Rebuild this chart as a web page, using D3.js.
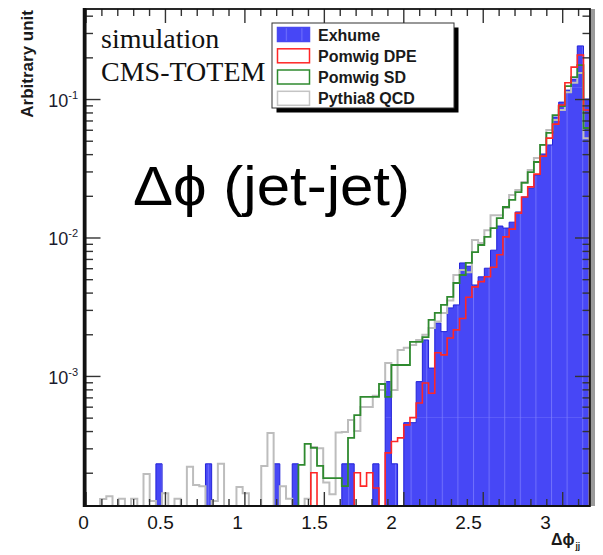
<!DOCTYPE html>
<html><head><meta charset="utf-8">
<script src="https://cdn.jsdelivr.net/npm/d3@7"></script>
<style>body{margin:0;background:#fff} svg{display:block}</style>
</head><body>
<svg id="c" width="603" height="555"></svg>
<script>
// ---- data ----
const binStart = 0.014;
const binWidth = 0.039;
const exhume = [
  0,0,0,0,0,0,0,0,0,0,
  0,2.32e-4,0,0,0,0,0,0,0,2.32e-4,
  0,0,0,0,0,0,0,0,0,0,
  2.32e-4,0,0,2.32e-4,0,0,0,0,0,0,
  0,2.32e-4,2.32e-4,0,0,0,2.32e-4,0,9.1e-4,2.32e-4,
  0,4.6e-4,4.6e-4,9.1e-4,1.82e-3,1.14e-3,2.41e-3,2.09e-3,3.1e-3,3.26e-3,
  6.55e-3,6.2e-3,4.54e-3,5.2e-3,6.0e-3,8.1e-3,0.0121,0.0117,0.0129,0.0153,
  0.0196,0.0228,0.0282,0.0401,0.0466,0.0741,0.095,0.116,0.139,0.242,
  0.100
];
const pomwigDPE = [
  0,0,0,0,0,0,0,0,0,0,
  0,0,0,0,0,0,0,0,0,0,
  0,0,0,0,0,0,0,0,0,0,
  0,0,0,0,0,0,2.0e-4,0,0,0,
  0,0,0,2.0e-4,1.6e-4,2.0e-4,1.55e-4,0,2.78e-4,3.36e-4,
  3.57e-4,4.43e-4,5.0e-4,6.38e-4,8.9e-4,7.5e-4,1.47e-3,1.42e-3,1.88e-3,2.15e-3,
  2.6e-3,3.7e-3,4.4e-3,4.8e-3,5.2e-3,6.1e-3,7.5e-3,0.0101,0.0115,0.0150,
  0.0196,0.0232,0.0287,0.0387,0.0522,0.0659,0.0905,0.131,0.170,0.208,
  0.0833
];
const pomwigSD = [
  0,0,0,0,0,0,0,0,0,0,
  0,0,0,0,0,0,0,0,0,0,
  0,0,0,0,0,0,0,0,0,0,
  0,0,0,0,2.28e-4,3.23e-4,3.02e-4,2.24e-4,1.83e-4,1.83e-4,
  1.83e-4,1.6e-4,3.57e-4,5.22e-4,7.05e-4,7.05e-4,7.05e-4,8.75e-4,7.05e-4,1.2e-3,
  1.2e-3,1.2e-3,1.76e-3,1.76e-3,1.91e-3,2.54e-3,2.85e-3,3.26e-3,3.72e-3,4.69e-3,
  5.36e-3,6.55e-3,7.85e-3,8.83e-3,0.0101,0.0117,0.0138,0.0166,0.0187,0.0213,
  0.0248,0.0297,0.0351,0.0466,0.0569,0.0766,0.0889,0.124,0.144,0.176,
  0.0618
];
const pythia8 = [
  0,0,1.29e-4,1.35e-4,0,1.3e-4,0,1.3e-4,0,1.96e-4,
  1.25e-4,0,1.42e-4,0,1.3e-4,0,2.21e-4,1.63e-4,1.6e-4,0,
  1.25e-4,2.32e-4,0,0,1.58e-4,1.42e-4,0,0,2.24e-4,3.87e-4,
  0,1.6e-4,1.3e-4,0,0,1.3e-4,3.07e-4,3.0e-4,1.7e-4,1.4e-4,
  3.9e-4,3.94e-4,4.81e-4,4.0e-4,5.97e-4,5.97e-4,7.18e-4,7.9e-4,1.24e-3,7.93e-4,
  1.54e-3,1.6e-3,1.67e-3,1.82e-3,1.98e-3,2.22e-3,2.47e-3,2.85e-3,3.5e-3,5.36e-3,
  5.82e-3,5.6e-3,9.6e-3,9.12e-3,0.0113,0.0145,0.0145,0.0163,0.0203,0.0220,
  0.0252,0.0307,0.0375,0.0466,0.0597,0.0705,0.0833,0.112,0.131,0.154,
  0.0522
];
const seriesNames = ["Exhume", "Pomwig DPE", "Pomwig SD", "Pythia8 QCD"];
const xTickLabels = [0, 0.5, 1, 1.5, 2, 2.5, 3];
const yDecadeExponents = [-1, -2, -3];

// ---- layout ----
const svg = d3.select("#c");
const L = 85.5, R = 590, T = 9, B = 506;
const yMin = 1.15e-4, yMax = 0.447;
const x = d3.scaleLinear().domain([0, 3.175]).range([L, R]);
const y = d3.scaleLog().domain([yMin, yMax]).range([B, T]);
const xLab = d3.scaleLinear().domain([0, 3]).range([83, 545]);

const nB = exhume.length;
const edges = d3.range(nB + 1).map(i => binStart + i * binWidth);

const defs = svg.append("defs");
defs.append("clipPath").attr("id", "plot").append("rect")
  .attr("x", L).attr("y", T).attr("width", R - L).attr("height", B - T);
const pat = defs.append("pattern").attr("id", "exh").attr("patternUnits", "userSpaceOnUse")
  .attr("x", 5).attr("y", 87).attr("width", 15.6).attr("height", 110);
pat.append("rect").attr("width", 15.6).attr("height", 110).attr("fill", "#4747f6");
pat.append("line").attr("x1", 0.5).attr("x2", 0.5).attr("y1", 0).attr("y2", 110)
  .attr("stroke", "#9090ff").attr("stroke-width", 1).attr("opacity", 0.55);
pat.append("line").attr("x1", 0).attr("x2", 15.6).attr("y1", 0.5).attr("y2", 0.5)
  .attr("stroke", "#8080ff").attr("stroke-width", 1).attr("opacity", 0.35);

function stepPts(vals) {
  const pts = [[edges[0], yMin]];
  vals.forEach((v, i) => pts.push([edges[i], Math.max(v, yMin)]));
  pts.push([edges[nB], yMin]);
  return pts;
}
const line = d3.line().x(d => x(d[0])).y(d => y(d[1])).curve(d3.curveStepAfter);
const area = d3.area().x(d => x(d[0])).y0(y(yMin)).y1(d => y(d[1])).curve(d3.curveStepAfter);

const g = svg.append("g").attr("clip-path", "url(#plot)");
g.append("path").attr("d", area(stepPts(exhume))).attr("fill", "url(#exh)");
g.append("path").attr("d", line(stepPts(exhume))).attr("fill", "none")
  .attr("stroke", "#2323d8").attr("stroke-width", 1);
g.append("path").attr("d", line(stepPts(pythia8))).attr("fill", "none")
  .attr("stroke", "#bdbdbd").attr("stroke-width", 2);
g.append("path").attr("d", line(stepPts(pomwigSD))).attr("fill", "none")
  .attr("stroke", "#2f8a2f").attr("stroke-width", 1.8);
g.append("path").attr("d", line(stepPts(pomwigDPE))).attr("fill", "none")
  .attr("stroke", "#ff2626").attr("stroke-width", 1.6);

// ---- axes ticks ----
const majorX = d3.range(0, 3.01, 0.5);
const minorX = d3.range(0, 3.17, 0.1).filter(v => Math.abs(v * 2 - Math.round(v * 2)) > 1e-6);
function styleAxis(sel) {
  sel.select(".domain").remove();
  sel.selectAll("line").attr("stroke", "#333").attr("stroke-width", 1.4);
}
svg.append("g").attr("transform", `translate(0,${B})`)
  .call(d3.axisBottom(x).tickValues(majorX).tickSize(-14).tickFormat("")).call(styleAxis);
svg.append("g").attr("transform", `translate(0,${B})`)
  .call(d3.axisBottom(x).tickValues(minorX).tickSize(-7).tickFormat("")).call(styleAxis);
svg.append("g").attr("transform", `translate(0,${T})`)
  .call(d3.axisTop(x).tickValues(majorX).tickSize(-14).tickFormat("")).call(styleAxis);
svg.append("g").attr("transform", `translate(0,${T})`)
  .call(d3.axisTop(x).tickValues(minorX).tickSize(-7).tickFormat("")).call(styleAxis);

const majorY = yDecadeExponents.map(e => Math.pow(10, e));
const minorY = [];
[-4, -3, -2, -1].forEach(e => d3.range(2, 10).forEach(m => {
  const v = m * Math.pow(10, e);
  if (v > yMin && v < yMax) minorY.push(v);
}));
svg.append("g").attr("transform", `translate(${L},0)`)
  .call(d3.axisLeft(y).tickValues(majorY).tickSize(-15).tickFormat("")).call(styleAxis);
svg.append("g").attr("transform", `translate(${L},0)`)
  .call(d3.axisLeft(y).tickValues(minorY).tickSize(-7.5).tickFormat("")).call(styleAxis);
svg.append("g").attr("transform", `translate(${R},0)`)
  .call(d3.axisRight(y).tickValues(majorY).tickSize(-15).tickFormat("")).call(styleAxis);
svg.append("g").attr("transform", `translate(${R},0)`)
  .call(d3.axisRight(y).tickValues(minorY).tickSize(-7.5).tickFormat("")).call(styleAxis);

// ---- frame ----
svg.append("rect").attr("x", L).attr("y", T).attr("width", R - L).attr("height", B - T)
  .attr("fill", "none").attr("stroke", "#111").attr("stroke-width", 1.8);
svg.append("line").attr("x1", L - 1).attr("x2", L - 1).attr("y1", T - 1).attr("y2", B + 1)
  .attr("stroke", "#111").attr("stroke-width", 3.5);
svg.append("line").attr("x1", L - 2).attr("x2", R).attr("y1", B).attr("y2", B)
  .attr("stroke", "#111").attr("stroke-width", 2.2);
svg.append("line").attr("x1", R + 3).attr("x2", R + 3).attr("y1", T).attr("y2", B)
  .attr("stroke", "#9a9a9a").attr("stroke-width", 4);

// ---- tick labels ----
const xl = svg.append("g").attr("transform", `translate(0,${B})`)
  .call(d3.axisBottom(xLab).tickValues(xTickLabels).tickSize(0).tickPadding(10)
    .tickFormat(d => String(d)));
xl.select(".domain").remove();
xl.selectAll("text").attr("font-family", "Liberation Sans, Arial, sans-serif")
  .attr("font-size", 19).attr("fill", "#141414");

yDecadeExponents.forEach(e => {
  const t = svg.append("text").attr("x", 78).attr("y", y(Math.pow(10, e)) + 8)
    .attr("text-anchor", "end").attr("font-family", "Liberation Sans, Arial, sans-serif")
    .attr("font-size", 18).attr("fill", "#1a1a2e");
  t.append("tspan").text("10");
  t.append("tspan").attr("font-size", 11).attr("dy", -8).text("-" + Math.abs(e));
});

// axis titles
svg.append("text").attr("transform", "translate(33,10) rotate(-90)")
  .attr("text-anchor", "end").attr("font-family", "Liberation Sans, Arial, sans-serif")
  .attr("font-weight", "bold").attr("font-size", 17).attr("fill", "#1a1a1a").text("Arbitrary unit");
const xt = svg.append("text").attr("x", 551).attr("y", 545)
  .attr("font-family", "Liberation Sans, Arial, sans-serif").attr("font-weight", "bold")
  .attr("font-size", 16).attr("fill", "#1a1a1a");
xt.append("tspan").text("Δϕ");
xt.append("tspan").attr("font-size", 8.5).attr("dy", 4).attr("dx", 1).text("jj");

// ---- annotations ----
svg.append("text").attr("x", 101).attr("y", 48).attr("font-family", "Liberation Serif, Times New Roman, serif")
  .attr("font-size", 28).attr("fill", "#111").text("simulation");
svg.append("text").attr("x", 101).attr("y", 81).attr("font-family", "Liberation Serif, Times New Roman, serif")
  .attr("font-size", 28).attr("fill", "#111").text("CMS-TOTEM");
svg.append("text").attr("x", 133).attr("y", 205).attr("font-family", "Liberation Sans, Arial, sans-serif")
  .attr("font-size", 56).attr("fill", "#000")
  .attr("textLength", 277).attr("lengthAdjust", "spacingAndGlyphs").text("Δϕ (jet-jet)");

// ---- legend ----
const lg = svg.append("g");
lg.append("rect").attr("x", 276.5).attr("y", 27.5).attr("width", 182).attr("height", 85).attr("fill", "#000");
lg.append("rect").attr("x", 272).attr("y", 23).attr("width", 182).attr("height", 85)
  .attr("fill", "#fff").attr("stroke", "#333").attr("stroke-width", 1);
const swFill = ["url(#exh)", "#fff", "#fff", "#fff"];
const swStroke = ["#4a4af0", "#ff2626", "#2f8a2f", "#c4c4c4"];
const rowY = [34.5, 55.8, 77, 98.3];
seriesNames.forEach((name, i) => {
  lg.append("rect").attr("x", 277.5).attr("y", rowY[i] - 7).attr("width", 32).attr("height", 14)
    .attr("fill", swFill[i]).attr("stroke", swStroke[i]).attr("stroke-width", 1.5);
  lg.append("text").attr("x", 318).attr("y", rowY[i] + 6)
    .attr("font-family", "Liberation Sans, Arial, sans-serif").attr("font-weight", "bold")
    .attr("font-size", 16).attr("fill", "#1a1a1a").text(name);
});
</script>
</body></html>
